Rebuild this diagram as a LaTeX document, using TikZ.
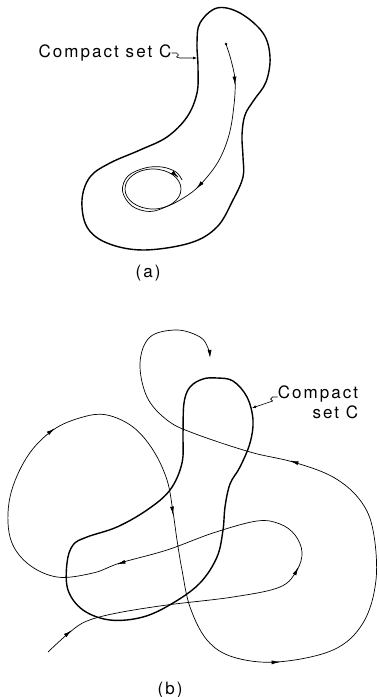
\documentclass[tikz,border=0pt]{standalone}
\usepackage{fontspec}
\newfontfamily\lettering[LetterSpace=12]{TeX Gyre Heros}
\usetikzlibrary{arrows.meta}
\tikzset{
  boundary/.style={line width=1.4pt,line join=round}, % コンパクト集合の境界
  orbit/.style={line width=0.7pt}, % 軌道
  flowtip/.style={orbit,-{Latex[length=8pt,width=4pt]}}, % 軌道上の向き
  caption/.style={font=\lettering\fontsize{17}{20}\selectfont,inner sep=0pt}
}
\newcommand{\flowmark}[2]{\draw[flowtip] #1 -- ++(#2:0.6);} % 位置と向きを与えて矢印を置く

\begin{document}
\begin{tikzpicture}[x=1pt,y=-1pt]
  \useasboundingbox (0,0) rectangle (378,697); % 全体の大きさ

  % (a)
  \draw[boundary] plot[smooth cycle,tension=0.6] coordinates {(217,8) (240,13) (263,33) (270,57) (266,82) (254,100) (245,115) (242,135) (243,157) (243,177) (233,200) (217,227) (190,243) (143,250) (107,243) (87,227) (82,200) (90,177) (110,163) (140,150) (167,137) (187,117) (197,93) (198,67) (197,43) (200,23)}; % 集合 C の境界
  \coordinate (setA) at (197,58); % 境界上の指示点
  \node[caption] (labA) at (105,53) {Compact set C}; % ラベル
  \draw[line width=0.6pt,-{Latex[length=4pt,width=3pt]}] (labA.east) -- ++(5,0) -- ++(2,2) -- ++(-2,2) -- ++(3,1) -- (setA); % ラベルの引き出し線
  \coordinate (startA) at (226,44); % 軌道の始点
  \fill (startA) circle (1.4); % 始点の点
  \draw[orbit] plot[smooth,tension=0.6] coordinates {(226,44) (231,60) (235,80) (234,105) (229,135) (218,162) (200,185) (185,197) (168,206) (150,211.5) (132,206) (122.5,191) (128,176) (145,168) (162,167) (176,172) (182,180)}; % 極限周期に近づく軌道
  \draw[orbit] (153,189) ellipse (28 and 20); % 極限周期
  \flowmark{(235,84)}{86} % 下向き
  \flowmark{(197,188)}{133} % 左下向き
  \flowmark{(178,177)}{40} % 周期軌道の向き
  \node[caption] (capA) at (148,273) {(a)}; % 図 (a)

  % (b)
  \draw[boundary] plot[smooth cycle,tension=0.6] coordinates {(217,378) (233,381) (247,397) (253,420) (250,443) (240,467) (230,484) (225,507) (223,530) (217,557) (200,583) (173,603) (143,617) (110,620) (83,610) (68,590) (67,563) (73,545) (87,537) (117,527) (147,510) (170,490) (182,463) (183,433) (184,403) (190,387) (203,379)}; % 集合 C の境界
  \coordinate (setB) at (252,408); % 境界上の指示点
  \node[caption,align=right] (labB) at (318,402) {Compact\\set C}; % ラベル
  \draw[line width=0.6pt,-{Latex[length=4pt,width=3pt]}] ([yshift=5pt]labB.west) -- ++(-5,0) -- ++(-2,2) -- ++(2,2) -- ++(-3,1) -- (setB); % ラベルの引き出し線
  \draw[orbit,-{Latex[length=8pt,width=4pt]}] plot[smooth,tension=0.6] coordinates {(48,652) (70,632) (87,621) (117,613) (167,605) (233,597) (280,587) (297,570) (302,552) (295,535) (280,524) (257,521) (213,533) (167,550) (120,563) (93,573) (57,577) (27,563) (10,537) (10,497) (27,457) (53,430) (83,417) (107,415) (133,427) (153,450) (167,480) (173,512) (177,540) (182,570) (190,607) (207,640) (233,657) (277,662) (333,650) (363,623) (376,580) (373,530) (360,500) (333,477) (293,462) (250,452) (193,433) (167,420) (147,397) (140,363) (150,337) (177,330) (200,337) (208,348) (210,358)}; % 集合を出入りする軌道
  \flowmark{(71,631)}{-38} % 右上向き
  \flowmark{(298,568)}{-62} % 上向き
  \flowmark{(118,564)}{163} % 左向き
  \flowmark{(54,429)}{-36} % 右上向き
  \flowmark{(173,514)}{82} % 下向き
  \flowmark{(279,662)}{-3} % 右向き
  \flowmark{(291,461)}{-163} % 左上向き
  \node[caption] (capB) at (170,690) {(b)}; % 図 (b)
\end{tikzpicture}
\end{document}
